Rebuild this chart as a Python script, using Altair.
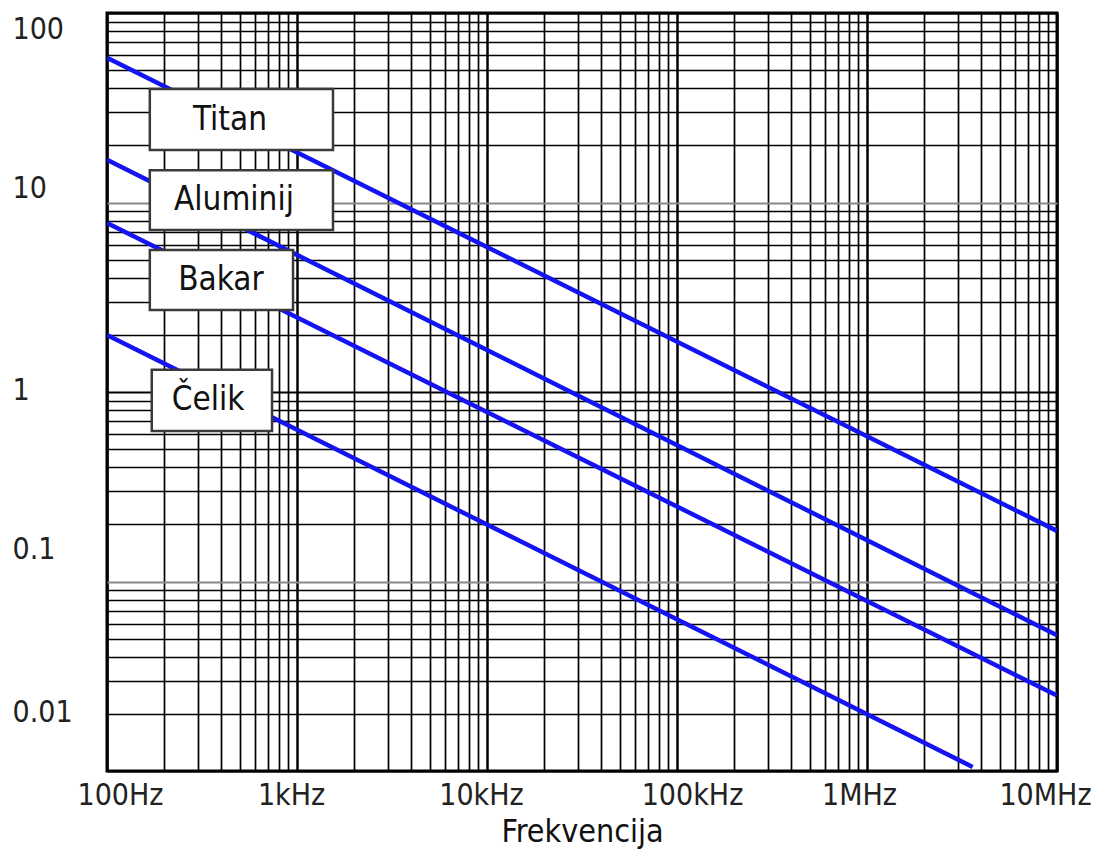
import altair as alt
import pandas as pd

# ---- data ----
materials = ["Titan", "Aluminij", "Bakar", "Čelik"]
freq_start = [100, 100, 100, 100]
freq_end = [1e7, 1e7, 1e7, 3.6e6]
depth_start = [58, 16.8, 7.8, 2.0]
depth_end = [0.185, 0.052, 0.025, 0.0105]

# annotation boxes (data coordinates)
label_freq = [444, 466, 398, 340]
label_depth = [27.3, 10.3, 3.9, 0.907]
box_freq_lo = [168, 168, 168, 172]
box_freq_hi = [1547, 1547, 953, 739]
box_depth_lo = [18.9, 7.16, 2.71, 0.623]
box_depth_hi = [39.7, 14.8, 5.61, 1.31]

x_tick_values = [100, 1000, 10000, 100000, 1000000, 10000000]
x_tick_labels = ["100Hz", "1kHz", "10kHz", "100kHz", "1MHz", "10MHz"]
y_tick_values = [100, 10, 1, 0.1, 0.01]
y_tick_labels = ["100", "10", "1", "0.1", "0.01"]

FONT = "DejaVu Sans Condensed, DejaVu Sans"

# ---- tables ----
rows = []
for m, fs, fe, ds, de in zip(materials, freq_start, freq_end, depth_start, depth_end):
    rows.append({"mat": m, "f": fs, "d": ds})
    rows.append({"mat": m, "f": fe, "d": de})
lines_df = pd.DataFrame(rows)

labels_df = pd.DataFrame({
    "mat": materials, "f": label_freq, "d": label_depth,
    "f_lo": box_freq_lo, "f_hi": box_freq_hi,
    "d_lo": box_depth_lo, "d_hi": box_depth_hi,
})

x_grid = [m * 10 ** d for d in range(2, 7) for m in range(1, 10)] + [10 ** 7]
y_grid = [round(m * 10.0 ** d, 6) for d in range(-2, 2) for m in range(1, 10)] + [100]

def label_expr(vals, labs):
    e = "''"
    for v, l in reversed(list(zip(vals, labs))):
        e = f"datum.value == {v} ? '{l}' : ({e})"
    return e

decade_test = "abs(log(datum.value)/LN10 - round(log(datum.value)/LN10)) < 1e-6"

x_offsets = [13, -6, -6, 15, -8, -12]
y_offsets = [16, -14, -2, -32, -59]

x_scale = alt.Scale(type="log", domain=[100, 1e7], nice=False)
y_scale = alt.Scale(type="log", domain=[0.01, 100], nice=False)

x_axis = alt.Axis(
    values=x_grid,
    labelExpr=label_expr(x_tick_values, x_tick_labels),
    grid=True, gridColor="#000",
    gridWidth={"condition": {"test": decade_test, "value": 2.5}, "value": 1.7},
    ticks=False, tickSize=0, domain=False,
    labelFont=FONT, labelFontSize=30, labelColor="#222", labelPadding=9,
    labelOffset={"condition": [{"test": f"datum.value == {v}", "value": o}
                               for v, o in zip(x_tick_values, x_offsets)], "value": 0},
    labelOverlap=False, labelFlush=False,
    title="Frekvencija", titleFont=FONT, titleFontSize=32, titleFontWeight="normal",
    titleColor="#111", titlePadding=6,
)
y_axis = alt.Axis(
    values=y_grid,
    labelExpr=label_expr(y_tick_values, y_tick_labels),
    grid=True,
    gridColor={"condition": {"test": "datum.value == 10 || datum.value == 0.1", "value": "#888"}, "value": "#000"},
    gridWidth={"condition": {"test": decade_test, "value": 2.2}, "value": 1.7},
    ticks=False, tickSize=0, domain=False,
    labelFont=FONT, labelFontSize=30, labelColor="#222",
    labelAlign="left", labelBaseline="middle", labelPadding=95,
    labelOffset={"condition": [{"test": f"datum.value == {v}", "value": o}
                               for v, o in zip(y_tick_values, y_offsets)], "value": 0},
    labelOverlap=False, labelFlush=False,
    title=None,
)

lines = alt.Chart(lines_df).mark_line(color="#1414f0", strokeWidth=4.5, clip=True).encode(
    x=alt.X("f:Q", scale=x_scale, axis=x_axis, title="Frekvencija"),
    y=alt.Y("d:Q", scale=y_scale, axis=y_axis, title=None),
    detail="mat:N",
)

boxes = alt.Chart(labels_df).mark_rect(fill="white", stroke="#3a3a3a", strokeWidth=2.5).encode(
    x=alt.X("f_lo:Q", scale=x_scale, title="Frekvencija"),
    x2="f_hi:Q",
    y=alt.Y("d_lo:Q", scale=y_scale, title=None),
    y2="d_hi:Q",
)

texts = alt.Chart(labels_df).mark_text(
    font=FONT, fontSize=33, color="#111", align="center", baseline="middle"
).encode(
    x=alt.X("f:Q", scale=x_scale, title="Frekvencija"),
    y=alt.Y("d:Q", scale=y_scale, title=None),
    text="mat:N",
)

chart = alt.layer(lines, boxes, texts).properties(
    width=950, height=758,
    padding={"left": 99, "top": 5, "right": 39, "bottom": 78},
    autosize=alt.AutoSizeParams(type="none"),
    background="white",
).configure_view(stroke="#000", strokeWidth=3)

chart.save("out.html", embed_options={"renderer": "svg", "actions": False})
